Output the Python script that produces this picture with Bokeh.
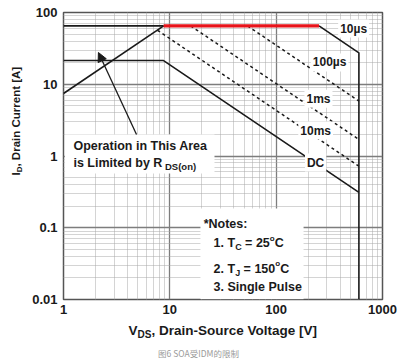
import math
from bokeh.plotting import figure
from bokeh.models import Range1d, FixedTicker, Label, BoxAnnotation, Arrow, NormalHead
from bokeh.embed import file_html
from bokeh.resources import INLINE

# ---------------- data ----------------
x_major = [1, 10, 100, 1000]
x_labels = ["1", "10", "100", "1000"]
y_major = [0.01, 0.1, 1, 10, 100]
y_labels = ["0.01", "0.1", "1", "10", "100"]
minor_mult = [2, 3, 4, 5, 6, 7, 8, 9]

# SOA boundary curves (V_DS [V], I_D [A])
idm_v = [1, 8.75]
idm_i = [65, 65]
red_v = [8.75, 253]          # I_DM limit (highlighted)
red_i = [65, 65]
rds_v = [1, 8.75]            # R_DS(on) limit
rds_i = [7.43, 65]
us10_v = [253, 600, 600]
us10_i = [65, 27.4, 0.01]
us100_v = [53.8, 600]
us100_i = [65, 5.83]
ms1_v = [15.7, 600]
ms1_i = [65, 1.70]
ms10_v = [7.66, 600]
ms10_i = [56.5, 0.721]
dc_v = [1, 8.73, 600]
dc_i = [21.4, 21.4, 0.311]

curve_names = ["10\u00b5s", "100\u00b5s", "1ms", "10ms", "DC"]
curve_label_v = [535, 318, 250, 235, 235]
curve_label_i = [59.8, 20.1, 6.3, 2.26, 0.81]

arrow_from = (4.86, 2.0)
arrow_to = (2.13, 27.7)

FONT = "Liberation Sans"
INK = "#1a1a1a"

W = {' ': 278, '!': 333, '(': 333, ')': 333, '*': 389, ',': 278, '-': 333, '.': 278,
     ':': 333, '=': 584, '[': 333, ']': 333, 'A': 722, 'C': 722, 'D': 722, 'I': 278,
     'J': 556, 'L': 611, 'N': 722, 'O': 778, 'P': 667, 'R': 722, 'S': 667, 'T': 611,
     'V': 667, 'a': 556, 'b': 611, 'c': 556, 'd': 611, 'e': 556, 'g': 611, 'h': 611,
     'i': 278, 'l': 278, 'm': 889, 'n': 611, 'o': 611, 'p': 611, 'r': 389, 's': 556,
     't': 333, 'u': 611, 'y': 556, 'v': 556}


def tw(s, size):
    return sum(W.get(c, 556) for c in s) / 1000.0 * size


p = figure(width=400, height=362, x_axis_type="log", y_axis_type="log",
           x_range=Range1d(1, 1000), y_range=Range1d(0.01, 100),
           output_backend="svg", toolbar_location=None,
           min_border_left=63, min_border_right=18, min_border_top=12, min_border_bottom=63)
p.background_fill_color = "white"
p.border_fill_color = "white"
p.outline_line_color = "#555555"
p.outline_line_width = 1.5

x_minor = [m * d for d in x_major[:-1] for m in minor_mult]
y_minor = [m * d for d in y_major[:-1] for m in minor_mult]
xt = FixedTicker(ticks=x_major, minor_ticks=x_minor)
yt = FixedTicker(ticks=y_major, minor_ticks=y_minor)
p.xaxis.ticker = xt
p.yaxis.ticker = yt
p.xgrid.ticker = xt
p.ygrid.ticker = yt
p.xaxis.major_label_overrides = dict(zip(x_major, x_labels))
p.yaxis.major_label_overrides = dict(zip(y_major, y_labels))

for ax in (p.xaxis, p.yaxis):
    ax.axis_line_color = None
    ax.major_tick_line_color = None
    ax.minor_tick_line_color = None
    ax.major_tick_out = 0
    ax.major_tick_in = 0
    ax.minor_tick_out = 0
    ax.minor_tick_in = 0
    ax.major_label_text_font = FONT
    ax.major_label_text_font_style = "bold"
    ax.major_label_text_font_size = "13px"
    ax.major_label_text_color = INK
p.xaxis.major_label_standoff = 5
p.yaxis.major_label_standoff = 6

for g in (p.xgrid, p.ygrid):
    g.grid_line_color = "#7d7d7d"
    g.grid_line_width = 1.3
    g.minor_grid_line_color = "#a8a8a8"
    g.minor_grid_line_width = 1
    g.minor_grid_line_dash = "1 1"

# white boxes behind the annotation texts
p.add_layout(BoxAnnotation(left=1.03, right=26.3, bottom=0.57, top=2.0,
                           fill_color="white", fill_alpha=1, line_color=None, level="underlay"))
p.add_layout(BoxAnnotation(left=19.4, right=181, bottom=0.0101, top=0.185,
                           fill_color="white", fill_alpha=1, line_color=None, level="underlay"))

# curves
p.line(idm_v, idm_i, line_color=INK, line_width=1.6)
p.line(rds_v, rds_i, line_color=INK, line_width=1.6)
p.line(dc_v, dc_i, line_color=INK, line_width=1.6)
p.line(us10_v, us10_i, line_color=INK, line_width=1.6)
for vv, ii in ((us100_v, us100_i), (ms1_v, ms1_i), (ms10_v, ms10_i)):
    p.line(vv, ii, line_color=INK, line_width=1.5, line_dash="3 3")
p.line(red_v, red_i, line_color="#e8141b", line_width=3.2)

# curve labels
for name, lv, li in zip(curve_names, curve_label_v, curve_label_i):
    p.add_layout(Label(x=lv, y=li, text=name, text_font=FONT, text_font_style="bold",
                       text_font_size="12px", text_color=INK, text_align="center",
                       text_baseline="middle", background_fill_color="white",
                       background_fill_alpha=1, padding=2))

p.add_layout(Arrow(end=NormalHead(size=9, fill_color=INK, line_color=INK),
                   x_start=arrow_from[0], y_start=arrow_from[1],
                   x_end=arrow_to[0], y_end=arrow_to[1],
                   line_color=INK, line_width=1.3))


def runs(x, y, parts, angle=0.0, color=INK):
    """Write text runs one after the other along the reading direction.
    Each part: (text, font size px, shift across the reading direction, panel)."""
    off = 0.0
    for text, size, shift, place in parts:
        stripped = text.lstrip(" ")
        off += tw(text[:len(text) - len(stripped)], size)
        if angle == 0.0:
            xo, yo = off, shift
        else:
            xo, yo = -shift, off
        p.add_layout(Label(x=x, y=y, x_offset=xo, y_offset=yo, angle=angle,
                           text=stripped, text_font=FONT, text_font_style="bold",
                           text_font_size=f"{size}px", text_color=color,
                           text_align="left", text_baseline="middle"), place)
        off += tw(stripped, size)


C = "center"
runs(1.24, 1.40, [("Operation in This Area", 12.5, 0, C)])
runs(1.24, 0.81, [("is Limited by R", 12.5, 0, C), (" DS(on)", 9.5, -4, C)])

runs(20.8, 0.1146, [("*Notes:", 12.5, 0, C)])
runs(25.8, 0.0604, [("1. T", 12.5, 0, C), ("C", 9, -4, C), (" = 25", 12.5, 0, C),
                    ("o", 8, 5, C), ("C", 12.5, 0, C)])
runs(25.8, 0.027, [("2. T", 12.5, 0, C), ("J", 9, -4, C), (" = 150", 12.5, 0, C),
                   ("o", 8, 5, C), ("C", 12.5, 0, C)])
runs(25.8, 0.0147, [("3. Single Pulse", 12.5, 0, C)])

# Titles outside the frame live in side panels (not clipped); the panel each
# piece is attached to only decides how much layout room it takes.
runs(4.09, 0.0037, [("V", 13.5, 0, "below"), ("DS", 10, -4, "right"),
                    (", Drain-Source Voltage [V]", 13.5, 0, "below")])

runs(0.361, 0.535, [("I", 11.5, 0, "left"), ("D", 8, -3, "below"),
                    (", Drain Current [A]", 11.5, 0, "left")],
     angle=math.pi / 2)

p.add_layout(Label(x=18.6, y=0.00177,
                   text="\u56fe6 SOA\u53d7IDM\u7684\u9650\u5236", text_font="Noto Sans CJK SC",
                   text_font_size="8.5px", text_color="#9a9a9a",
                   text_align="center", text_baseline="middle"), "above")

open("out.html", "w").write(file_html(p, INLINE))
